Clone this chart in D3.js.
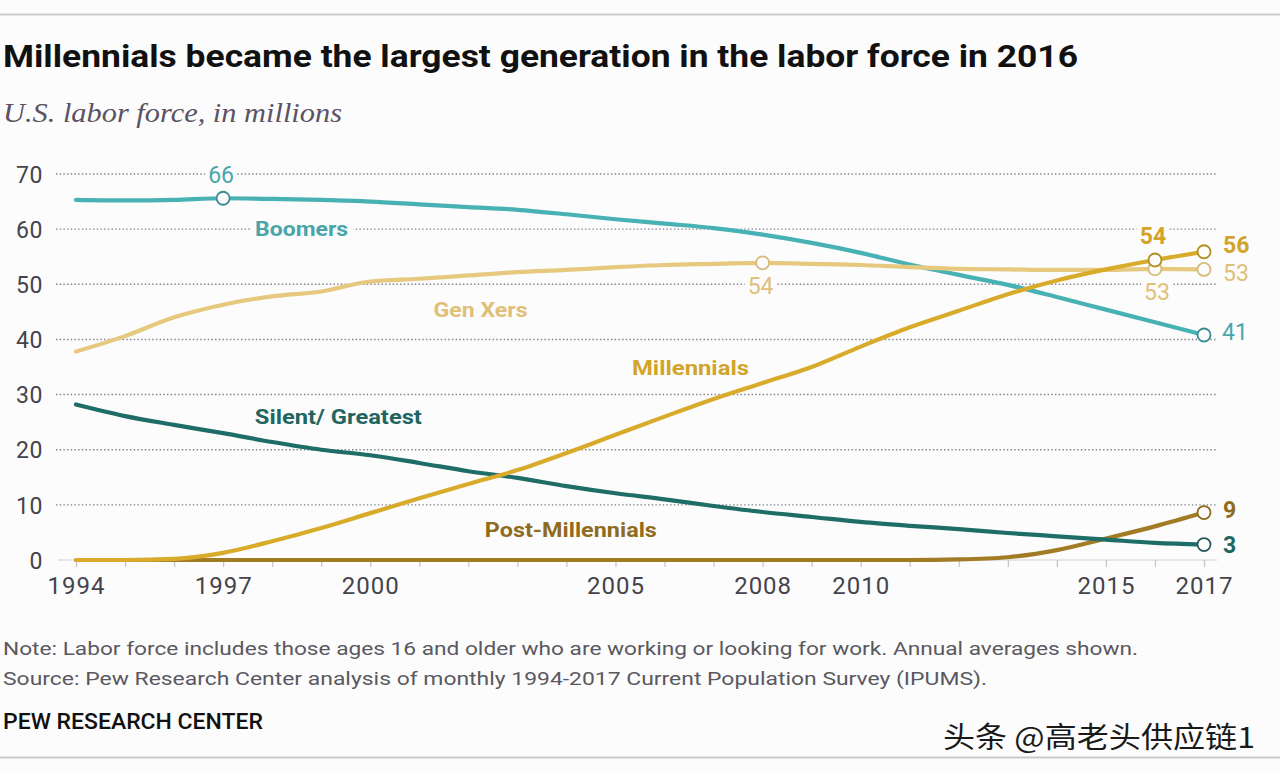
<!DOCTYPE html>
<html>
<head>
<meta charset="utf-8">
<script src="https://cdn.jsdelivr.net/npm/d3@7"></script>
<style>
  html, body { margin: 0; padding: 0; background: #fcfcfd; }
  svg { display: block; }
</style>
</head>
<body>
<svg id="chart" width="1280" height="772"></svg>
<script>
// ---------- DATA ----------
const years = [1994,1995,1996,1997,1998,1999,2000,2001,2002,2003,2004,2005,2006,2007,2008,2009,2010,2011,2012,2013,2014,2015,2016,2017];
const boomers = [65.3,65.2,65.3,65.6,65.5,65.3,65.0,64.5,64.0,63.5,62.7,61.8,61.0,60.2,59.0,57.5,55.7,53.6,51.7,49.9,47.7,45.4,43.1,40.8];
const genXers = [37.8,40.6,44.0,46.3,47.8,48.7,50.5,51.0,51.6,52.2,52.6,53.1,53.5,53.7,53.9,53.7,53.5,53.1,52.8,52.7,52.6,52.6,52.8,52.7];
const millennials = [0,0,0.2,1.3,3.4,5.8,8.5,11.2,13.8,16.3,19.4,22.7,26.0,29.2,32.1,35.0,38.7,42.2,45.2,48.2,50.7,52.7,54.4,55.9];
const silentGreatest = [28.2,26.1,24.5,23.0,21.4,20.0,19.0,17.6,16.1,14.9,13.4,12.1,11.0,9.8,8.7,7.8,6.9,6.2,5.6,4.9,4.3,3.7,3.1,2.8];
const postMillennials = [0,0,0,0,0,0,0,0,0,0,0,0,0,0,0,0,0,0,0.1,0.5,1.8,3.9,6.1,8.6];
const seriesNames = ["Boomers","Gen Xers","Millennials","Silent/ Greatest","Post-Millennials"];
const yTicks = [0,10,20,30,40,50,60,70];
const xTickLabels = [1994,1997,2000,2005,2008,2010,2015,2017];

// ---------- STYLE / LAYOUT ----------
const seriesValues = [boomers, genXers, millennials, silentGreatest, postMillennials];
const lineColors = ["#48b1b4","#e6c97f","#d8ab2b","#1f6d67","#a27c24"];
const markerStroke = ["#3d8a90","#d6bb7c","#b48e1f","#24585a","#8c6a1c"];
const labelColors = ["#4aa5aa","#e0c078","#d2a52a","#1f6560","#8f6b1c"];

const nameLabels = [
  {s:0, x:1998.6, y:60.0, w:93},
  {s:1, x:2002.25, y:45.3, w:94},
  {s:2, x:2006.53, y:34.8, w:117},
  {s:3, x:1999.35, y:25.9, w:167},
  {s:4, x:2004.09, y:5.4, w:172}
];
const markers = [[0,1997],[0,2017],[1,2008],[1,2016],[1,2017],[2,2016],[2,2017],[3,2017],[4,2017]];
const valueLabels = [
  {s:0, yr:1997, dx:-2, dy:-24, a:"middle", b:false},
  {s:1, yr:2008, dx:-2, dy:23, a:"middle", b:false},
  {s:2, yr:2016, dx:-2, dy:-24, a:"middle", b:true},
  {s:1, yr:2016, dx:2, dy:23, a:"middle", b:false},
  {s:2, yr:2017, dx:19, dy:-7, a:"start", b:true},
  {s:1, yr:2017, dx:19, dy:3, a:"start", b:false},
  {s:0, yr:2017, dx:18, dy:-3, a:"start", b:false},
  {s:4, yr:2017, dx:19, dy:-3, a:"start", b:true},
  {s:3, yr:2017, dx:19, dy:0, a:"start", b:true}
];

const svg = d3.select("#chart");
const W = 1280, H = 772;
svg.append("rect").attr("width", W).attr("height", H).attr("fill", "#fcfcfd");

svg.append("line").attr("x1",0).attr("x2",W).attr("y1",14.5).attr("y2",14.5).attr("stroke","#c9c9cc").attr("stroke-width",2);
svg.append("line").attr("x1",0).attr("x2",W).attr("y1",757.5).attr("y2",757.5).attr("stroke","#c9c9cc").attr("stroke-width",2);

const sans = "Roboto, 'Liberation Sans', Arial, sans-serif";

function fitText(sel, w) {
  sel.attr("textLength", w).attr("lengthAdjust", "spacingAndGlyphs");
  return sel;
}

fitText(svg.append("text").attr("x",3).attr("y",67)
  .attr("font-family", sans).attr("font-weight",700).attr("font-size",32).attr("fill","#111")
  .text("Millennials became the largest generation in the labor force in 2016"), 1075);

fitText(svg.append("text").attr("x",3).attr("y",122)
  .attr("font-family","'Liberation Serif', 'DejaVu Serif', Georgia, serif").attr("font-style","italic")
  .attr("font-size",28).attr("fill","#5b5262")
  .text("U.S. labor force, in millions"), 339);

const x = d3.scaleLinear().domain([1994, 2017]).range([76, 1204]);
const y = d3.scaleLinear().domain([0, 70]).range([560, 174]);

const grid = svg.append("g");
grid.selectAll("line.g").data(yTicks.filter(d => d > 0)).enter().append("line")
  .attr("x1", 56).attr("x2", 1217)
  .attr("y1", d => y(d)).attr("y2", d => y(d))
  .attr("stroke", "#7f7f88").attr("stroke-width", 1.4)
  .attr("stroke-dasharray", "1.4,2.3");

svg.append("line").attr("x1",58).attr("x2",1217).attr("y1",y(0)).attr("y2",y(0))
  .attr("stroke","#cfcfd2").attr("stroke-width",1.2);

const yAxis = d3.axisLeft(y).tickValues(yTicks).tickSize(0).tickPadding(0).tickFormat(d3.format("d"));
const gy = svg.append("g").attr("transform","translate(43,0)").call(yAxis);
gy.select(".domain").remove();
gy.selectAll("text").attr("font-family", sans).attr("font-size", 23).attr("fill","#45434b")
  .attr("letter-spacing", 0.6).attr("dy","0.36em");

const xAxis = d3.axisBottom(x).tickValues(years).tickSize(7).tickPadding(10)
  .tickFormat(d => xTickLabels.includes(d) ? d : "");
const gx = svg.append("g").attr("transform", `translate(0,${y(0)})`).call(xAxis);
gx.select(".domain").remove();
gx.selectAll(".tick line").attr("stroke","#c4c4c8").attr("stroke-width",1.2);
gx.selectAll("text").attr("font-family", sans).attr("font-size", 24).attr("fill","#45434b")
  .attr("letter-spacing", 1);

const nameG = svg.append("g");
nameLabels.forEach(l => {
  const t = nameG.append("text")
    .attr("x", x(l.x)).attr("y", y(l.y)).attr("dy","0.35em")
    .attr("text-anchor","middle")
    .attr("font-family", sans).attr("font-weight",700).attr("font-size",20)
    .attr("fill", labelColors[l.s])
    .text(seriesNames[l.s]);
  fitText(t, l.w);
  const bb = t.node().getBBox();
  nameG.insert("rect", "text").attr("x", bb.x - 5).attr("y", bb.y + 2)
    .attr("width", bb.width + 10).attr("height", bb.height - 4).attr("fill","#fcfcfd");
});

const line = d3.line().x((d,i) => x(years[i])).y(d => y(d)).curve(d3.curveMonotoneX);
const drawOrder = [4,3,0,1,2];
svg.append("g").selectAll("path").data(drawOrder).enter().append("path")
  .attr("d", s => line(seriesValues[s]))
  .attr("fill","none").attr("stroke", s => lineColors[s])
  .attr("stroke-width", 4.2).attr("stroke-linejoin","round").attr("stroke-linecap","round");

const valG = svg.append("g");
valueLabels.forEach(l => {
  const i = years.indexOf(l.yr);
  const v = seriesValues[l.s][i];
  const t = valG.append("text")
    .attr("x", x(l.yr) + l.dx).attr("y", y(v) + l.dy).attr("dy","0.36em")
    .attr("text-anchor", l.a)
    .attr("font-family", sans).attr("font-weight", l.b ? 700 : 400).attr("font-size", 23)
    .attr("fill", labelColors[l.s])
    .text(Math.round(v));
  const bb = t.node().getBBox();
  valG.insert("rect","text").attr("x", bb.x - 3).attr("y", bb.y + 3)
    .attr("width", bb.width + 6).attr("height", bb.height - 6).attr("fill","#fcfcfd");
});

svg.append("g").selectAll("circle").data(markers).enter().append("circle")
  .attr("cx", d => x(d[1])).attr("cy", d => y(seriesValues[d[0]][years.indexOf(d[1])]))
  .attr("r", 6.5).attr("fill","#fcfcfd")
  .attr("stroke", d => markerStroke[d[0]]).attr("stroke-width", 1.8);

fitText(svg.append("text").attr("x",3).attr("y",655)
  .attr("font-family", sans).attr("font-size",19).attr("fill","#5a5860")
  .text("Note: Labor force includes those ages 16 and older who are working or looking for work. Annual averages shown."), 1135);
fitText(svg.append("text").attr("x",3).attr("y",685)
  .attr("font-family", sans).attr("font-size",19).attr("fill","#5a5860")
  .text("Source: Pew Research Center analysis of monthly 1994-2017 Current Population Survey (IPUMS)."), 984);
fitText(svg.append("text").attr("x",3).attr("y",729)
  .attr("font-family", sans).attr("font-weight",500).attr("font-size",22).attr("fill","#111")
  .text("PEW RESEARCH CENTER"), 260);

fitText(svg.append("text").attr("x",943).attr("y",748)
  .attr("font-family","'Noto Sans CJK SC', sans-serif").attr("font-size",29)
  .attr("fill","#1a1a1a").attr("stroke","#ffffff").attr("stroke-width",1.5).attr("paint-order","stroke")
  .text("头条 @高老头供应链1"), 312);
</script>
</body>
</html>
